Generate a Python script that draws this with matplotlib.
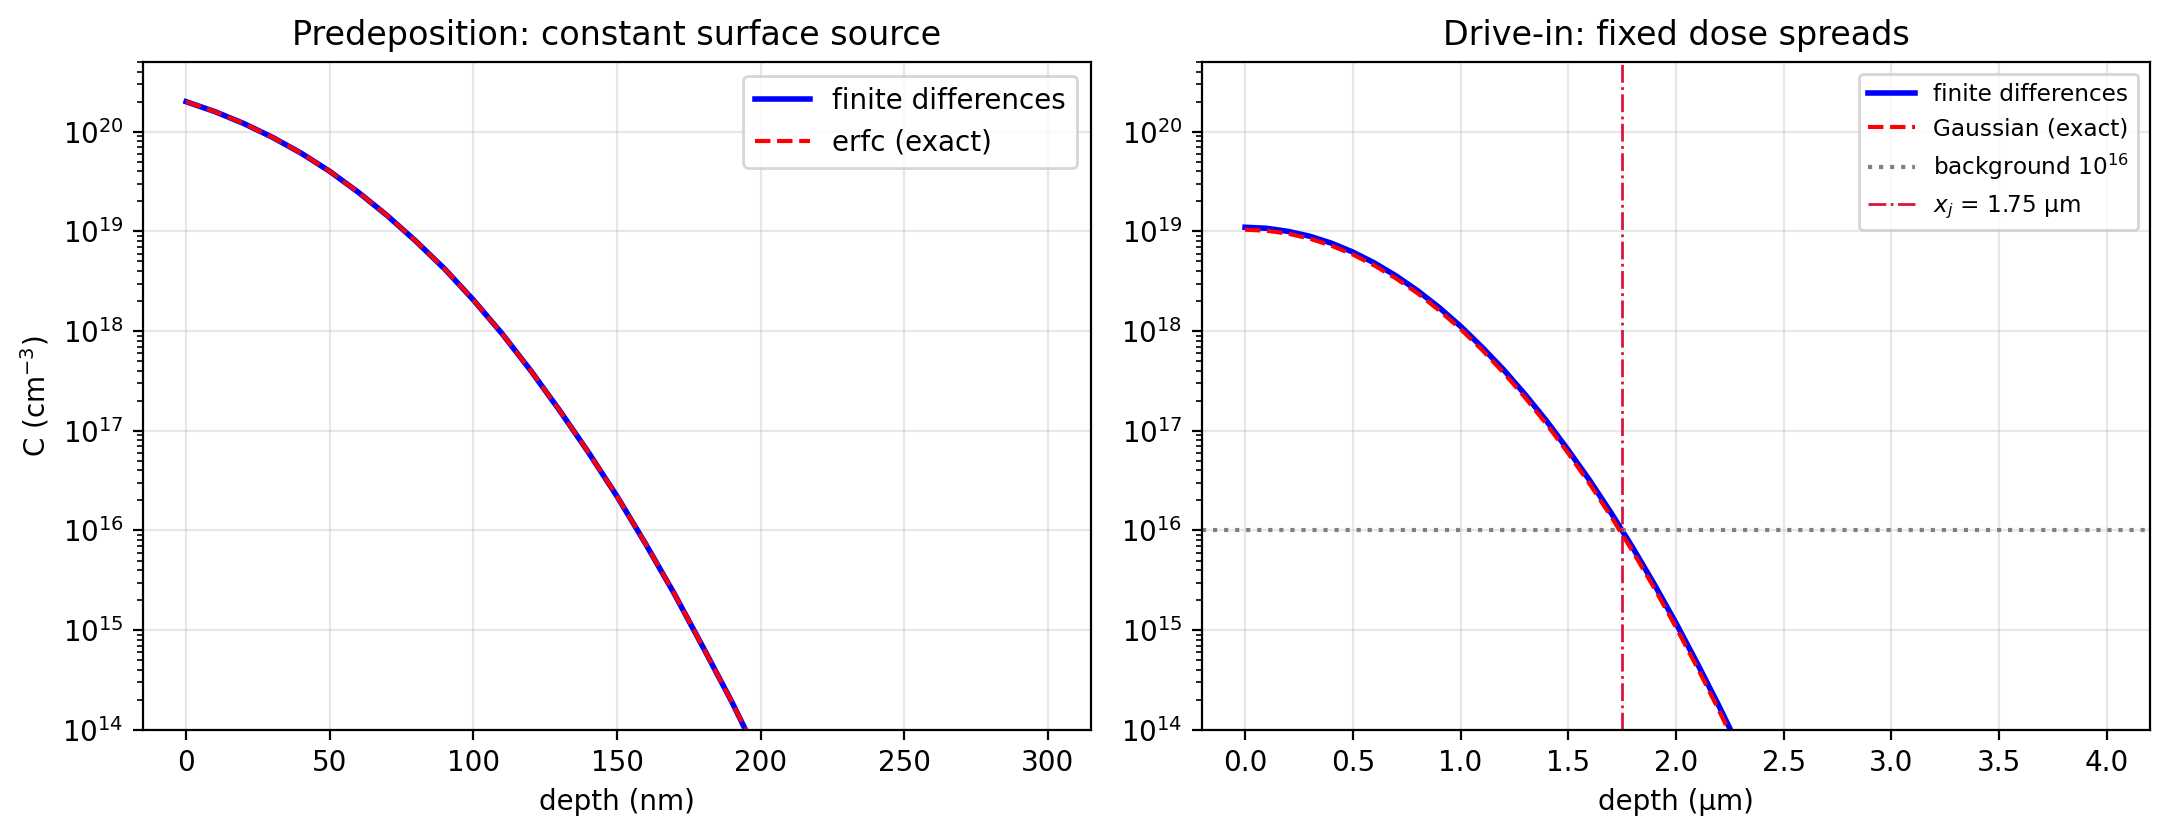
import numpy as np
import matplotlib
matplotlib.use("Agg")
import matplotlib.pyplot as plt

# predepozycja: profil erfc, glebokosc w nm
depth_nm = [0, 10, 20, 30, 40, 50, 60, 70, 80, 90, 100, 110, 120, 130, 140,
            150, 160, 170, 180, 190, 200]
pre_fd = [2.0e20, 1.59e20, 1.21e20, 8.8e19, 6.1e19, 4.0e19, 2.46e19, 1.44e19,
          7.96e18, 4.2e18, 2.05e18, 9.4e17, 4.0e17, 1.6e17, 6.1e16, 2.2e16,
          7.3e15, 2.3e15, 6.7e14, 1.9e14, 4.9e13]
pre_erfc = [2.0e20, 1.59e20, 1.21e20, 8.8e19, 6.1e19, 4.0e19, 2.46e19, 1.44e19,
            7.96e18, 4.2e18, 2.05e18, 9.4e17, 4.0e17, 1.6e17, 6.1e16, 2.2e16,
            7.3e15, 2.3e15, 6.7e14, 1.9e14, 4.9e13]

# drive-in: profil gaussa, glebokosc w um
depth_um = [0.0, 0.1, 0.2, 0.3, 0.4, 0.5, 0.6, 0.7, 0.8, 0.9, 1.0, 1.1, 1.2,
            1.3, 1.4, 1.5, 1.6, 1.7, 1.8, 1.9, 2.0, 2.1, 2.2, 2.3]
drive_fd = [1.1e19, 1.075e19, 1.0e19, 8.95e18, 7.63e18, 6.21e18, 4.83e18,
            3.59e18, 2.55e18, 1.73e18, 1.12e18, 6.9e17, 4.1e17, 2.31e17,
            1.25e17, 6.4e16, 3.17e16, 1.49e16, 6.7e15, 2.87e15, 1.18e15,
            4.6e14, 1.73e14, 6.2e13]
drive_gauss = [1.04e19, 1.016e19, 9.49e18, 8.46e18, 7.2e18, 5.86e18, 4.55e18,
               3.38e18, 2.4e18, 1.62e18, 1.05e18, 6.48e17, 3.82e17, 2.15e17,
               1.16e17, 5.95e16, 2.92e16, 1.37e16, 6.13e15, 2.63e15, 1.07e15,
               4.18e14, 1.56e14, 5.6e13]

background = 1e16
x_j = 1.75

fig, (ax1, ax2) = plt.subplots(1, 2, figsize=(10.855, 4.19), dpi=200)
fig.subplots_adjust(left=0.0659, right=0.9903, top=0.926, bottom=0.129, wspace=0.117)

#lewy panel
ax1.semilogy(depth_nm, pre_fd, color="blue", lw=2, label="finite differences")
ax1.semilogy(depth_nm, pre_erfc, color="red", ls="--", lw=1.5, label="erfc (exact)")
ax1.set_xlim(-15, 315)
ax1.set_ylim(1e14, 5e20)
ax1.set_xlabel("depth (nm)")
ax1.set_ylabel("C (cm$^{-3}$)")
ax1.set_title("Predeposition: constant surface source")
ax1.grid(True, alpha=0.3)
ax1.legend(loc="upper right")

#prawy panel
ax2.semilogy(depth_um, drive_fd, color="blue", lw=2, label="finite differences")
ax2.semilogy(depth_um, drive_gauss, color="red", ls="--", lw=1.5, label="Gaussian (exact)")
ax2.axhline(background, color="gray", ls=":", lw=1.5, label="background 10$^{16}$")
ax2.axvline(x_j, color="crimson", ls="-.", lw=1, label="$x_j$ = 1.75 µm")
ax2.set_xlim(-0.2, 4.2)
ax2.set_ylim(1e14, 5e20)
ax2.set_xlabel("depth (µm)")
ax2.set_title("Drive-in: fixed dose spreads")
ax2.grid(True, alpha=0.3)
ax2.legend(loc="upper right", fontsize="small")

fig.savefig("out.png", dpi=200)
